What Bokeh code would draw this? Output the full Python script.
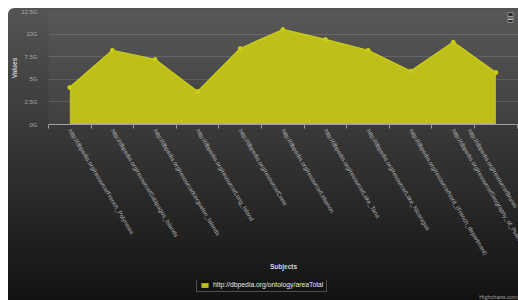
import math
from bokeh.plotting import figure
from bokeh.layouts import column
from bokeh.models import FixedTicker, Legend, LegendItem, Label
from bokeh.embed import file_html
from bokeh.resources import INLINE

subjects = [
    "http://dbpedia.org/resource/French_Polynesia",
    "http://dbpedia.org/resource/Galápagos_Islands",
    "http://dbpedia.org/resource/Kerguelen_Islands",
    "http://dbpedia.org/resource/Long_Island",
    "http://dbpedia.org/resource/Crete",
    "http://dbpedia.org/resource/Lebanon",
    "http://dbpedia.org/resource/Lake_Tana",
    "http://dbpedia.org/resource/Lake_Nicaragua",
    "http://dbpedia.org/resource/Nord_(French_department)",
    "http://dbpedia.org/resource/Geography_of_Puerto_Rico",
    "http://dbpedia.org/resource/Brunei",
]
area_total_g = [4.1, 8.2, 7.2, 3.65, 8.4, 10.5, 9.4, 8.2, 5.9, 9.1, 5.75]
y_ticks = [0, 2.5, 5, 7.5, 10, 12.5]
y_tick_labels = ["0G", "2.5G", "5G", "7.5G", "10G", "12.5G"]
series_name = "http://dbpedia.org/ontology/areaTotal"
x_title = "Subjects"
y_title = "Values"
credit = "Highcharts.com"

idx = list(range(len(subjects)))
FONT = "Liberation Sans"
AREA = "#BEBF1B"
EDGE = "#CACC14"

p = figure(width=510, height=272, x_range=(-0.5, 10.53), y_range=(0, 12.5),
           output_backend="svg", toolbar_location=None,
           min_border_left=38, min_border_right=0, min_border_top=3,
           min_border_bottom=156)
p.border_fill_color = None
p.background_fill_color = "white"
p.background_fill_alpha = 0.03
p.outline_line_color = None

area = p.varea(x=idx, y1=0, y2=area_total_g, fill_color=AREA)
p.line(idx, area_total_g, line_color=EDGE, line_width=1.5)
p.scatter(idx, area_total_g, size=4, color=EDGE)

p.xgrid.visible = False
p.ygrid.ticker = FixedTicker(ticks=y_ticks)
p.ygrid.grid_line_color = "white"
p.ygrid.grid_line_alpha = 0.12

ya = p.yaxis[0]
ya.ticker = FixedTicker(ticks=y_ticks)
ya.major_label_overrides = dict(zip(y_ticks, y_tick_labels))
ya.axis_line_color = None
ya.major_tick_line_color = None
ya.minor_tick_line_color = None
ya.major_label_standoff = 5
ya.major_label_text_font = FONT
ya.major_label_text_font_size = "6px"
ya.major_label_text_color = "#a8a8a8"
ya.axis_label = y_title
ya.axis_label_text_font = FONT
ya.axis_label_text_font_size = "6.5px"
ya.axis_label_text_font_style = "bold"
ya.axis_label_text_color = "#c8c8c8"
ya.axis_label_standoff = 0

xa = p.xaxis[0]
xa.ticker = FixedTicker(ticks=idx, minor_ticks=[i - 0.5 for i in range(len(subjects) + 1)])
xa.major_label_overrides = dict(zip(idx, subjects))
xa.major_label_orientation = -math.radians(59)
xa.major_tick_in = 0
xa.major_tick_out = 0
xa.major_tick_line_color = None
xa.minor_tick_in = 0
xa.minor_tick_out = 4
xa.minor_tick_line_color = "#999999"
xa.axis_line_color = "#a0a0a0"
xa.major_label_standoff = 1
xa.major_label_text_font = FONT
xa.major_label_text_font_size = "6px"
xa.major_label_text_color = "#b0b0b0"
xa.axis_label = x_title
xa.axis_label_text_font = FONT
xa.axis_label_text_font_size = "6.5px"
xa.axis_label_text_font_style = "bold"
xa.axis_label_text_color = "#d8d8d8"
xa.axis_label_standoff = 1

p.add_layout(Label(x=462, y=107, x_units="screen", y_units="screen", text="≡",
                   text_align="center", text_baseline="middle",
                   text_font_size="9px", text_color="#e8e8e8",
                   background_fill_color="#2a2a2a", border_line_color="#8a8a8a"))

# legend strip (its frame is aligned with the main frame, which starts 38px in)
p2 = figure(width=510, height=20, x_range=(0, 1), y_range=(0, 1),
            output_backend="svg", toolbar_location=None,
            x_axis_type=None, y_axis_type=None, min_border=0)
p2.border_fill_color = None
p2.background_fill_color = None
p2.outline_line_color = None
p2.grid.visible = False
swatch = p2.varea(x=[0, 0], y1=[0, 0], y2=[0, 0], fill_color=AREA)
legend = Legend(items=[LegendItem(label=series_name, renderers=[swatch])],
                location=(148, 8), margin=0, padding=3,
                glyph_width=9, glyph_height=6, label_height=6,
                label_standoff=4,
                label_text_font=FONT, label_text_font_size="6.8px",
                label_text_color="#e8e8e8",
                background_fill_color="#111111", background_fill_alpha=0.4,
                border_line_color="#8a8a8a", border_line_width=1)
p2.add_layout(legend)
p2.add_layout(Label(x=469, y=1, x_units="screen", y_units="screen", text=credit,
                    text_align="right", text_baseline="bottom",
                    text_font=FONT, text_font_size="5.5px", text_color="#a0a0a0"))

root = column(p, p2, spacing=0,
              styles={"background": "linear-gradient(to bottom, rgb(84,84,84), rgb(18,18,18))",
                      "border-radius": "6px 0 0 0", "margin": "8px 0 0 8px",
                      "overflow": "hidden"})

open("out.html", "w").write(file_html(root, INLINE))
